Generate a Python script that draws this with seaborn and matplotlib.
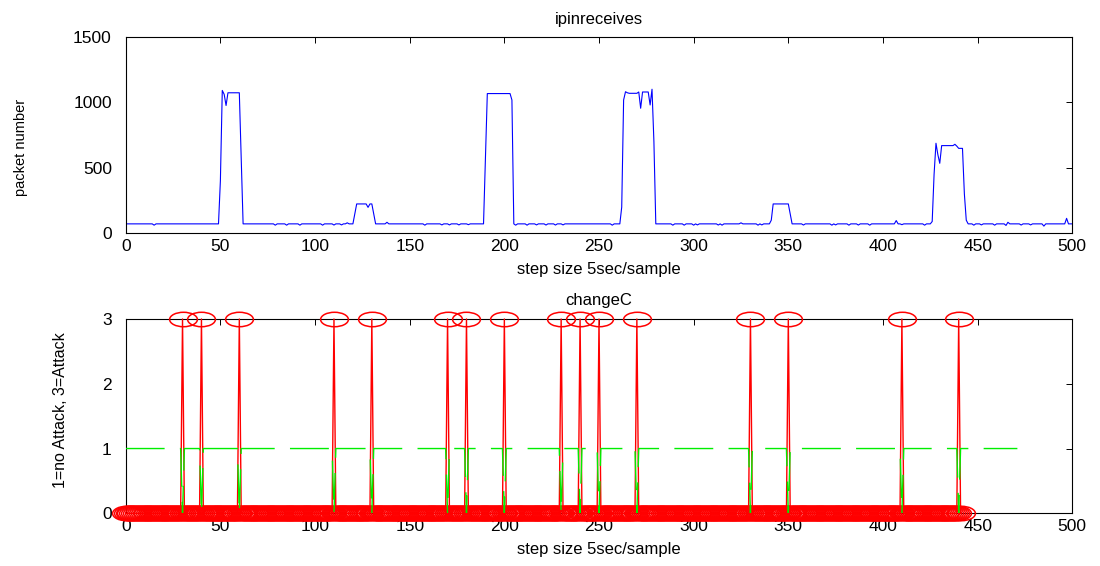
import numpy as np
import pandas as pd
import matplotlib
matplotlib.use("Agg")
import matplotlib.pyplot as plt
from matplotlib.path import Path
import seaborn as sns

# ---- ipinreceives: packet counts per 5 s sample ----
n_samples = 501
baseline_level = 72

# (first index, values...) for each traffic burst
burst_1_start = 50
burst_1_vals = [400, 1090, 1060, 975, 1072, 1072, 1072, 1072, 1072, 1072, 1072, 560]
bump_1_start = 121
bump_1_vals = [150, 224, 224, 224, 224, 224, 224, 198, 224, 224, 150]
burst_2_start = 190
burst_2_vals = [560, 1066, 1066, 1066, 1066, 1066, 1066, 1066, 1066, 1066, 1066,
                1066, 1066, 1066, 1017]
burst_3_start = 262
burst_3_vals = [200, 1017, 1080, 1072, 1068, 1068, 1068, 1068, 1068, 1078, 954,
                1078, 1078, 1078, 1078, 979, 1099, 700]
bump_2_start = 341
bump_2_vals = [100, 224, 224, 224, 224, 224, 224, 224, 224, 224, 150]
burst_4_start = 426
burst_4_vals = [90, 450, 687, 600, 534, 669, 669, 669, 669, 669, 669, 669, 679,
                665, 648, 648, 648, 300, 100]

# small fluctuations around the idle level
blip_idx = [15, 79, 85, 92, 104, 110, 114, 117, 138, 158, 167, 171, 176, 181,
            206, 212, 217, 222, 227, 231, 257, 289, 295, 300, 302, 313, 315,
            325, 334, 336, 358, 373, 375, 382, 387, 393, 407, 410, 422, 448,
            452, 459, 465, 466, 473, 478, 485, 497]
blip_val = [62, 62, 62, 62, 62, 63, 64, 80, 84, 62, 64, 64, 64, 66,
            62, 62, 64, 63, 63, 64, 62, 62, 62, 62, 64, 63, 62,
            80, 62, 64, 63, 62, 64, 62, 63, 62, 97, 66, 62, 62,
            64, 62, 60, 84, 63, 64, 55, 114]

# ---- changeC: detector output ----
attack_idx = [30, 40, 60, 110, 130, 170, 180, 200, 230, 240, 250, 270,
              330, 350, 410, 440]
change_len = 442      # samples of the red (change) series
state_len = 472       # samples of the green (state) series
attack_level = 3
normal_level = 1

# build series
packets = np.full(n_samples, baseline_level, dtype=float)
for i, v in zip(blip_idx, blip_val):
    packets[i] = v
for start, vals in [(burst_1_start, burst_1_vals), (bump_1_start, bump_1_vals),
                    (burst_2_start, burst_2_vals), (burst_3_start, burst_3_vals),
                    (bump_2_start, bump_2_vals), (burst_4_start, burst_4_vals)]:
    packets[start:start + len(vals)] = vals

change = np.zeros(change_len)
change[attack_idx] = attack_level
state = np.full(state_len, normal_level, dtype=float)
state[attack_idx] = 0

df_top = pd.DataFrame({"sample": np.arange(n_samples), "packets": packets})
df_change = pd.DataFrame({"sample": np.arange(change_len), "value": change})
df_state = pd.DataFrame({"sample": np.arange(state_len), "value": state})

sns.set_theme(style="white")
plt.rcParams["font.family"] = ["Liberation Sans", "DejaVu Sans"]
plt.rcParams.update({
    "axes.edgecolor": "black",
    "axes.linewidth": 0.8,
    "xtick.direction": "in",
    "ytick.direction": "in",
    "xtick.top": True,
    "ytick.right": True,
    "xtick.major.size": 4,
    "ytick.major.size": 4,
    "xtick.major.width": 0.7,
    "ytick.major.width": 0.7,
    "xtick.color": "black",
    "ytick.color": "black",
    "text.color": "black",
    "axes.labelcolor": "black",
})

fig = plt.figure(figsize=(11, 5.66), dpi=100)
ax1 = fig.add_axes([0.1143, 0.5878, 0.8605, 0.3474])
ax2 = fig.add_axes([0.1143, 0.0931, 0.8605, 0.3433])

# top panel
sns.lineplot(data=df_top, x="sample", y="packets", ax=ax1, color="#0000ff",
             linewidth=0.8, errorbar=None)
ax1.set_xlim(0, 500)
ax1.set_ylim(0, 1500)
ax1.set_xticks(np.arange(0, 501, 50))
ax1.set_yticks([0, 500, 1000, 1500])
ax1.set_title("ipinreceives", fontsize=12, pad=9)
ax1.set_xlabel("step size 5sec/sample", fontsize=12)
ax1.set_ylabel("packet number", fontsize=10.5)
ax1.xaxis.set_label_coords(0.5, -0.145)
ax1.yaxis.set_label_coords(-0.1035, 0.436)

# bottom panel
ellipse = Path.unit_circle()
ellipse = Path(ellipse.vertices * np.array([1.0, 0.52]), ellipse.codes)
sns.lineplot(data=df_change, x="sample", y="value", ax=ax2, color="#ff0000",
             linewidth=1.0, errorbar=None, marker=ellipse, markersize=20,
             markerfacecolor="none", markeredgecolor="#ff0000",
             markeredgewidth=1.1, clip_on=False, zorder=3)
sns.lineplot(data=df_state, x="sample", y="value", ax=ax2, color="#00ee00",
             linewidth=1.0, errorbar=None, linestyle=(0, (28, 11)), zorder=4)
ax2.set_xlim(0, 500)
ax2.set_ylim(0, 3)
ax2.set_xticks(np.arange(0, 501, 50))
ax2.set_yticks([0, 1, 2, 3])
ax2.set_title("changeC", fontsize=12, pad=10)
ax2.set_xlabel("step size 5sec/sample", fontsize=12)
ax2.set_ylabel("1=no Attack, 3=Attack", fontsize=11.5)
ax2.xaxis.set_label_coords(0.5, -0.15)
ax2.yaxis.set_label_coords(-0.0605, 0.53)

for ax in (ax1, ax2):
    ax.tick_params(axis="x", labelsize=12.5, pad=4)
    ax.tick_params(axis="y", labelsize=12.5, pad=10)
    for sp in ax.spines.values():
        sp.set_visible(True)
        sp.set_color("black")

fig.savefig("out.png", dpi=100)
